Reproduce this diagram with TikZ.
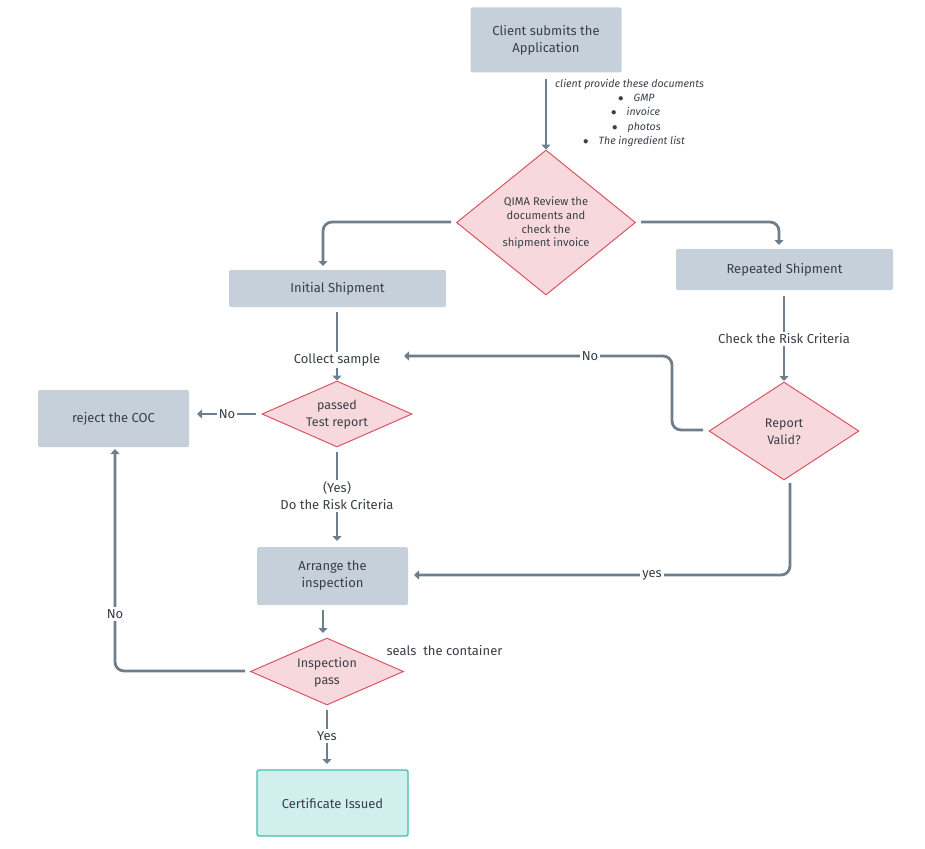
\documentclass[tikz,border=0pt]{standalone}
\usepackage{fontspec}
\setmainfont{Fira Sans}
\usetikzlibrary{arrows.meta,shapes.geometric}
\definecolor{boxfill}{HTML}{C5D0DA}
\definecolor{linec}{HTML}{6E7E8D}
\definecolor{dfill}{HTML}{F7D9DD}
\definecolor{dline}{HTML}{D95562}
\definecolor{txt}{HTML}{3A3F47}
\definecolor{cfill}{HTML}{D1EFEC}
\definecolor{cline}{HTML}{3DBFAE}
\tikzset{
  stepbox/.style={rectangle, fill=boxfill, rounded corners=1.5pt, inner sep=0pt, align=center, text=txt, font=\fontsize{13}{17}\selectfont},
  decide/.style={diamond, fill=dfill, draw=dline, line width=1pt, inner sep=0pt},
  dtext/.style={text=txt, font=\fontsize{12.5}{17}\selectfont, align=center},
  conn/.style={draw=linec, line width=2.8pt, rounded corners=9pt, -{Triangle[width=9pt,length=5pt]}},
  plain/.style={draw=linec, line width=2.8pt, rounded corners=9pt},
  lbl/.style={text=txt, font=\fontsize{13}{17}\selectfont, fill=white, inner sep=2pt, align=center},
  note/.style={text=txt, font=\fontsize{10.6}{14}\selectfont\itshape, align=left, inner sep=0pt, anchor=base west},
}
\begin{document}
\begin{tikzpicture}[x=1pt,y=-1pt]
\useasboundingbox (0,0) rectangle (925,848);
% nodes
\node[stepbox, minimum width=151pt, minimum height=65pt] (client) at (546,40) {Client submits the\\Application};
\node[decide, minimum width=179pt, minimum height=145pt] (qima) at (546,222.5) {};
\node[text=txt, font=\fontsize{11.2}{13.7}\selectfont, align=center] (qimat) at (546,223) {QIMA Review the\\documents and\\check the\\shipment invoice};
\node[stepbox, minimum width=217pt, minimum height=37pt] (init) at (337.5,288.5) {Initial Shipment};
\node[stepbox, minimum width=217pt, minimum height=41pt] (rep) at (784.5,269.5) {Repeated Shipment};
\node[decide, minimum width=150pt, minimum height=66pt] (passed) at (337,414) {};
\node[dtext] (passedt) at (337,415) {passed\\Test report};
\node[stepbox, minimum width=151pt, minimum height=57pt] (reject) at (113.5,418.5) {reject the COC};
\node[decide, minimum width=150pt, minimum height=98pt] (valid) at (784,431) {};
\node[dtext] (validt) at (784,432) {Report\\Valid?};
\node[stepbox, minimum width=151pt, minimum height=58pt] (arrange) at (332.5,576) {Arrange the\\inspection};
\node[decide, minimum width=153pt, minimum height=67pt] (insp) at (327,671.5) {};
\node[dtext] (inspt) at (327,672) {Inspection\\pass};
\node[rectangle, fill=cfill, draw=cline, line width=1.3pt, rounded corners=1.5pt, minimum width=151pt, minimum height=66pt, text=txt, font=\fontsize{13}{17}\selectfont] (cert) at (332.5,803) {Certificate Issued};
% annotation
\node[note] (docs) at (555,88) {client provide these documents};
\node[note] (b1) at (618,102) {$\bullet$\hspace{10pt}GMP};
\node[note] (b2) at (611,116) {$\bullet$\hspace{10pt}invoice};
\node[note] (b3) at (612,130) {$\bullet$\hspace{10pt}photos};
\node[note] (b4) at (583,144) {$\bullet$\hspace{10pt}The ingredient list};
\node[text=txt, font=\fontsize{13}{17}\selectfont, anchor=west] (seals) at (383,650) {seals\ \ the container};
% connectors
\draw[conn] (client.south) ++(0,6) coordinate (c1) (c1) -- (qima.north);
\coordinate (q1) at (451,222);
\coordinate (q2) at (641,222);
\draw[conn] (q1) -- (323,222) -- (323,266);
\draw[conn] (q2) -- (779,222) -- (779,245);
% initial -> collect sample -> passed
\node[lbl] (collect) at (337,360) {Collect sample};
\draw[plain] (337,312) -- (collect.north);
\draw[conn] (collect.south) -- (passed.north);
% passed -> reject (No)
\draw[conn] (256,414) -- (197,414);
\node[lbl] (no1) at (227,414) {No};
% passed -> arrange (Yes)
\node[lbl] (yes1) at (337,496) {(Yes)\\Do the Risk Criteria};
\draw[plain] (337,452) -- (yes1.north);
\draw[conn] (yes1.south) -- (337,541);
% arrange -> insp
\draw[conn] (323,610) -- (323,633);
% insp -> reject (No)
\draw[conn] (245,671) -- (115,671) -- (115,449);
\node[lbl] (no2) at (115,614) {No};
% insp -> cert (Yes)
\draw[conn] (327,710) -- (327,764);
\node[lbl] (yes2) at (327,736) {Yes};
% repeated -> valid
\draw[conn] (784,296) -- (784,381);
\node[lbl] (crit) at (784,339) {Check the Risk Criteria};
% valid -> collect (No)
\draw[conn] (703,430) -- (672,430) -- (672,356) -- (404,356);
\node[lbl] (no3) at (590,356) {No};
% valid -> arrange (yes)
\draw[conn] (790,483) -- (790,575) -- (414,575);
\node[lbl] (yes3) at (652,575) {yes};
\end{tikzpicture}
\end{document}
